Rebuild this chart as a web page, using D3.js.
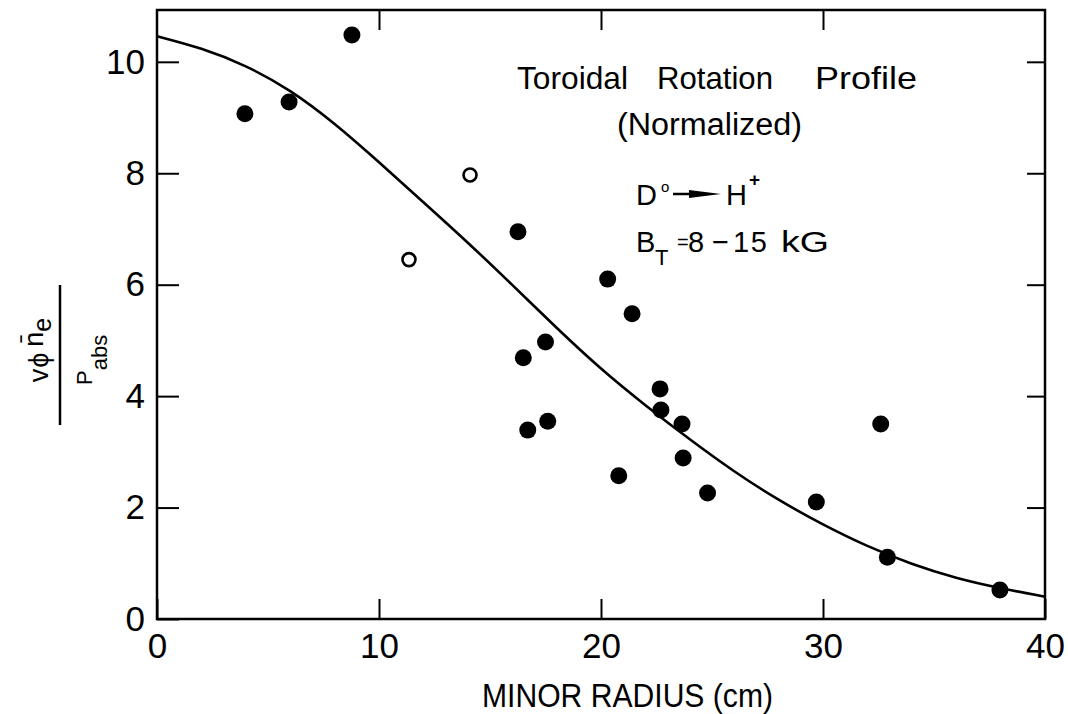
<!DOCTYPE html>
<html>
<head>
<meta charset="utf-8">
<script src="https://cdn.jsdelivr.net/npm/d3@7"></script>
<style>
  html, body { margin: 0; padding: 0; background: #fff; }
  svg { display: block; font-family: "Liberation Sans", Arial, sans-serif; }
</style>
</head>
<body>
<svg id="chart" width="1068" height="714"></svg>
<script>
// ---- data ----
const filledX = [3.96, 5.95, 8.78, 16.26, 20.3, 21.4, 17.5, 16.5, 22.66, 22.7, 23.65, 17.6, 16.7, 23.7, 20.8, 24.8, 29.7, 32.6, 32.9, 37.97];
const filledY = [9.07, 9.28, 10.48, 6.95, 6.10, 5.48, 4.97, 4.69, 4.13, 3.75, 3.50, 3.55, 3.39, 2.89, 2.57, 2.26, 2.10, 3.50, 1.11, 0.52];
const openX = [11.35, 14.1];
const openY = [6.45, 7.97];
const curveX = [0, 2, 4, 6, 8, 10, 12, 14, 16, 18, 20, 22, 24, 26, 28, 30, 32, 34, 36, 38, 40];
const curveY = [10.46, 10.25, 9.94, 9.5, 8.9, 8.2, 7.48, 6.76, 6.0, 5.22, 4.48, 3.83, 3.22, 2.64, 2.13, 1.69, 1.30, 0.98, 0.73, 0.55, 0.40];
const xTicks = [0, 10, 20, 30, 40];
const yTicks = [0, 2, 4, 6, 8, 10];
const xTitle = "MINOR RADIUS (cm)";
const titleWords = ["Toroidal", "Rotation", "Profile"];
const subTitle = "(Normalized)";

// ---- scales ----
const svg = d3.select("#chart");
const x = d3.scaleLinear().domain([0, 40]).range([157, 1045]);
const y = d3.scaleLinear().domain([0, 10.93]).range([619, 10]);
const FS = 35;

// frame
svg.append("rect")
  .attr("x", x(0)).attr("y", y(10.93))
  .attr("width", x(40) - x(0)).attr("height", y(0) - y(10.93))
  .attr("fill", "none").attr("stroke", "#000").attr("stroke-width", 2.5);

function styleAxis(g) {
  g.select(".domain").remove();
  g.selectAll(".tick line").attr("stroke", "#000").attr("stroke-width", 2);
  g.selectAll(".tick text").attr("fill", "#000").attr("font-size", FS)
    .attr("font-family", "'Liberation Sans', Arial, sans-serif");
}

svg.append("g").attr("transform", `translate(${x(0)},0)`)
  .call(d3.axisLeft(y).tickValues(yTicks).tickSizeInner(-22).tickSizeOuter(0).tickPadding(12).tickFormat(d3.format("d")))
  .call(styleAxis);

svg.append("g").attr("transform", `translate(${x(40)},0)`)
  .call(d3.axisRight(y).tickValues(yTicks.filter(d => d > 0)).tickSizeInner(-18).tickSizeOuter(0).tickFormat(""))
  .call(styleAxis);

svg.append("g").attr("transform", `translate(0,${y(0)})`)
  .call(d3.axisBottom(x).tickValues(xTicks).tickSizeInner(-20).tickSizeOuter(0).tickPadding(14).tickFormat(d3.format("d")))
  .call(styleAxis);

svg.append("g").attr("transform", `translate(0,${y(10.93)})`)
  .call(d3.axisTop(x).tickValues(xTicks.filter(d => d > 0 && d < 40)).tickSizeInner(-20).tickSizeOuter(0).tickFormat(""))
  .call(styleAxis);

// curve
const line = d3.line().x(d => x(d[0])).y(d => y(d[1])).curve(d3.curveBasis);
svg.append("path")
  .datum(curveX.map((v, i) => [v, curveY[i]]))
  .attr("d", line)
  .attr("fill", "none").attr("stroke", "#000").attr("stroke-width", 2.6);

// points
svg.append("g").selectAll("circle")
  .data(filledX.map((v, i) => [v, filledY[i]]))
  .join("circle")
  .attr("cx", d => x(d[0])).attr("cy", d => y(d[1])).attr("r", 8.5)
  .attr("fill", "#000");

svg.append("g").selectAll("circle")
  .data(openX.map((v, i) => [v, openY[i]]))
  .join("circle")
  .attr("cx", d => x(d[0])).attr("cy", d => y(d[1])).attr("r", 6.5)
  .attr("fill", "#fff").attr("stroke", "#000").attr("stroke-width", 2.6);

// x title
svg.append("text").attr("x", 482).attr("y", 707)
  .attr("font-size", 33).attr("textLength", 291).attr("lengthAdjust", "spacingAndGlyphs")
  .text(xTitle);

// annotations
const wordPos = [[517, 111], [657, 116], [815, 102]];
titleWords.forEach((w, i) => {
  svg.append("text").attr("x", wordPos[i][0]).attr("y", 89)
    .attr("font-size", 32).attr("textLength", wordPos[i][1]).attr("lengthAdjust", "spacingAndGlyphs")
    .text(w);
});
svg.append("text").attr("x", 617).attr("y", 135)
  .attr("font-size", 31).attr("textLength", 185).attr("lengthAdjust", "spacingAndGlyphs")
  .text(subTitle);

// D° -> H+
svg.append("text").attr("x", 636).attr("y", 205).attr("font-size", 29).text("D");
svg.append("text").attr("x", 661).attr("y", 192).attr("font-size", 15).text("o");
svg.append("line").attr("x1", 673).attr("x2", 700).attr("y1", 194).attr("y2", 194)
  .attr("stroke", "#000").attr("stroke-width", 2.5);
svg.append("path").attr("d", "M689,190 L721,194 L689,198 Z").attr("fill", "#000");
svg.append("text").attr("x", 726).attr("y", 205).attr("font-size", 29).text("H");
svg.append("text").attr("x", 749).attr("y", 186).attr("font-size", 19).attr("font-weight", "bold").text("+");

// B_T = 8-15 kG
svg.append("text").attr("x", 636).attr("y", 252).attr("font-size", 29).text("B");
svg.append("text").attr("x", 655).attr("y", 265).attr("font-size", 22).text("T");
svg.append("text").attr("x", 677).attr("y", 249).attr("font-size", 20).text("=");
svg.append("text").attr("x", 688).attr("y", 252).attr("font-size", 29).text("8");
svg.append("text").attr("x", 712).attr("y", 252).attr("font-size", 29).text("\u2212");
svg.append("text").attr("x", 733).attr("y", 252).attr("font-size", 29).attr("textLength", 34).text("15");
svg.append("text").attr("x", 781).attr("y", 252).attr("font-size", 30).attr("textLength", 48).attr("lengthAdjust", "spacingAndGlyphs").text("kG");

// y label (rotated fraction)
const yl = svg.append("g");
const num = yl.append("text").attr("transform", "translate(48,350) rotate(-90)")
  .attr("text-anchor", "middle").attr("font-size", 27);
num.append("tspan").text("v");
num.append("tspan").attr("dx", 1).text("\u03D5");
num.append("tspan").attr("dx", 6).attr("dy", -5).text("n\u0304");
num.append("tspan").attr("dy", 8).attr("font-size", 25).text("e");
yl.append("line").attr("x1", 60).attr("x2", 60).attr("y1", 285).attr("y2", 425)
  .attr("stroke", "#000").attr("stroke-width", 2.5);
const den = yl.append("text").attr("transform", "translate(92,385) rotate(-90)")
  .attr("font-size", 22);
den.append("tspan").text("P");
den.append("tspan").attr("dy", 15).attr("font-size", 22).text("abs");
</script>
</body>
</html>
